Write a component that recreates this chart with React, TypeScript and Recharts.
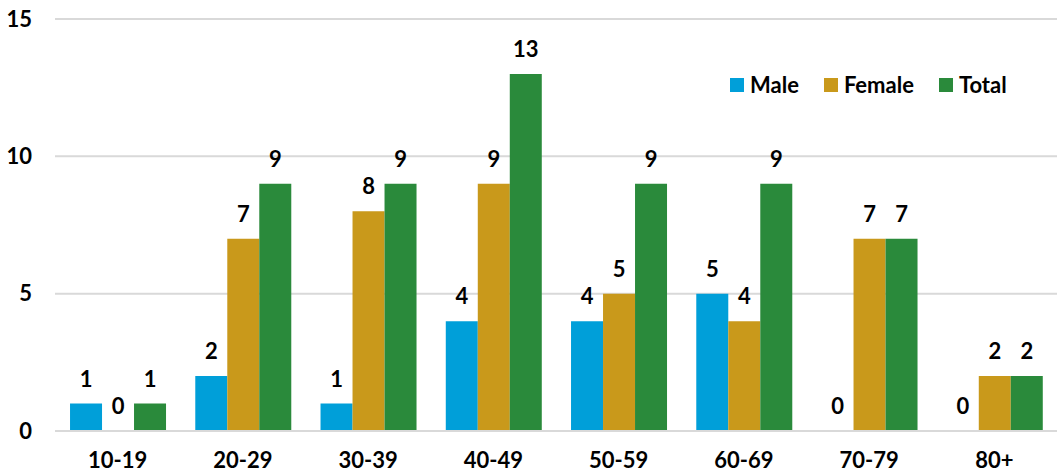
import { Bar, BarChart, CartesianGrid, LabelList, Legend, XAxis, YAxis } from "recharts";

const ageGroups = ["10-19", "20-29", "30-39", "40-49", "50-59", "60-69", "70-79", "80+"];
const male = [1, 2, 1, 4, 4, 5, 0, 0];
const female = [0, 7, 8, 9, 5, 4, 7, 2];
const total = [1, 9, 9, 13, 9, 9, 7, 2];
const yTicks = [0, 5, 10, 15];

const data = ageGroups.map((g, i) => ({
  group: g,
  Male: male[i],
  Female: female[i],
  Total: total[i],
}));

const COLORS = { Male: "#009fd9", Female: "#c9991b", Total: "#2a8a3b" };
const FONT = "Lato, 'Open Sans', sans-serif";
const FS = 22;

function LegendContent() {
  const items = ["Male", "Female", "Total"] as const;
  return (
    <div style={{ display: "flex", alignItems: "center", fontFamily: FONT, fontWeight: 700, fontSize: FS }}>
      {items.map((k) => (
        <div key={k} style={{ display: "flex", alignItems: "center", marginRight: 25 }}>
          <span style={{ width: 14, height: 14, background: COLORS[k], marginRight: 6, display: "inline-block" }} />
          <span style={{ color: "#000" }}>{k}</span>
        </div>
      ))}
    </div>
  );
}

// custom label so zero-height bars still get their "0"
function ValueLabel(props: any) {
  const { x, y, width, height, value, viewBox } = props;
  const bx = x ?? viewBox?.x;
  const by = y ?? viewBox?.y;
  const bw = width ?? viewBox?.width ?? 0;
  if (bx == null || by == null) return null;
  const top = Math.min(by, by + (height ?? 0));
  return (
    <text
      x={bx + bw / 2}
      y={top - 17}
      textAnchor="middle"
      fill="#000"
      fontSize={FS}
      fontWeight={700}
      fontFamily={FONT}
    >
      {value}
    </text>
  );
}

// tiny height for zero values so the bar (and its label) is still emitted
const tinyForZero = (v: any) => (v === 0 ? 0.01 : 0);

export default function App() {
  return (
    <div style={{ position: "absolute", left: 0, top: 0, background: "#fff" }}>
      <BarChart
        width={1057}
        height={473}
        data={data}
        margin={{ top: 19, right: 0, left: 0, bottom: 0 }}
        barCategoryGap="12%"
        barGap={0}
      >
        <CartesianGrid vertical={false} stroke="#d9d9d9" strokeWidth={2} />
        <XAxis
          dataKey="group"
          height={42}
          axisLine={{ stroke: "#d9d9d9", strokeWidth: 2 }}
          tickLine={false}
          tickMargin={15}
          tick={{ fill: "#000", fontSize: FS, fontWeight: 700, fontFamily: FONT }}
        />
        <YAxis
          width={55}
          domain={[0, 15]}
          ticks={yTicks}
          axisLine={false}
          tickLine={false}
          tickMargin={17}
          tick={{ fill: "#000", fontSize: FS, fontWeight: 700, fontFamily: FONT }}
        />
        <Legend
          layout="horizontal"
          verticalAlign="middle"
          align="center"
          content={<LegendContent />}
          wrapperStyle={{ top: 71, left: 730, width: 320 }}
        />
        <Bar dataKey="Male" fill={COLORS.Male} minPointSize={tinyForZero} isAnimationActive={false}>
          <LabelList dataKey="Male" content={<ValueLabel />} />
        </Bar>
        <Bar dataKey="Female" fill={COLORS.Female} minPointSize={tinyForZero} isAnimationActive={false}>
          <LabelList dataKey="Female" content={<ValueLabel />} />
        </Bar>
        <Bar dataKey="Total" fill={COLORS.Total} minPointSize={tinyForZero} isAnimationActive={false}>
          <LabelList dataKey="Total" content={<ValueLabel />} />
        </Bar>
      </BarChart>
    </div>
  );
}
